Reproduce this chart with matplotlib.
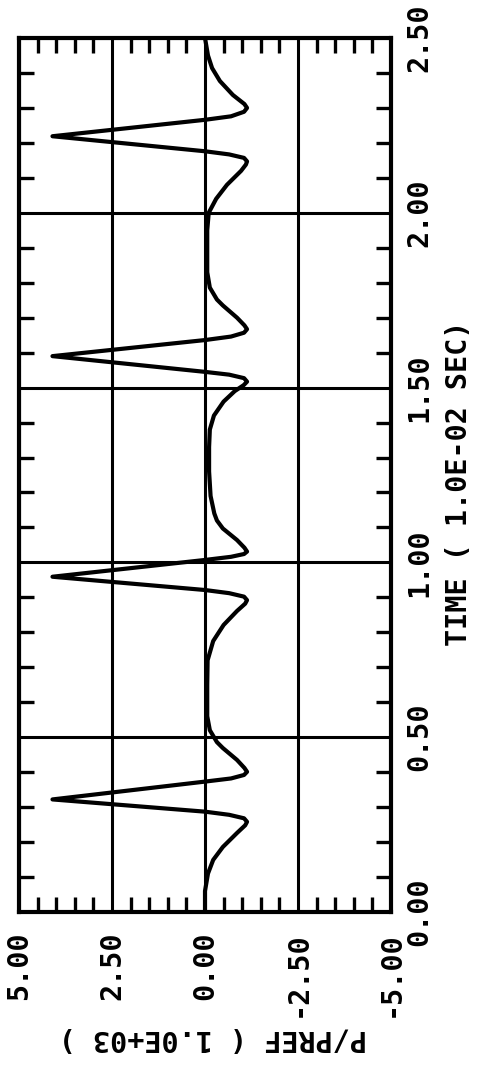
import matplotlib
matplotlib.use("Agg")
import matplotlib.pyplot as plt
from matplotlib.ticker import MultipleLocator

# time in 1.0E-02 sec, pressure P/PREF in 1.0E+03
time = [0.000, 0.060, 0.110, 0.149, 0.186, 0.226, 0.248, 0.258, 0.268, 0.278, 0.287, 0.322, 0.373,
        0.382, 0.392, 0.401, 0.412, 0.435, 0.469, 0.486, 0.520, 0.560, 0.650, 0.720,
        0.775, 0.821, 0.861, 0.882, 0.892, 0.902, 0.912, 0.921, 0.959, 1.007,
        1.016, 1.024, 1.031, 1.042, 1.064, 1.097, 1.120, 1.140, 1.190, 1.260, 1.330, 1.380,
        1.420, 1.460, 1.490, 1.507, 1.517, 1.527, 1.537, 1.545, 1.590, 1.636,
        1.646, 1.657, 1.667, 1.678, 1.700, 1.735, 1.752, 1.786, 1.830, 1.950, 2.000,
        2.040, 2.080, 2.120, 2.138, 2.147, 2.157, 2.167, 2.176, 2.219, 2.266,
        2.276, 2.289, 2.300, 2.311, 2.337, 2.377, 2.414, 2.450, 2.500]
pres = [0.00, 0.00, -0.08, -0.22, -0.48, -0.86, -1.08, -1.13, -1.05, -0.65, 0.00, 4.10, 0.00,
        -0.70, -1.05, -1.13, -1.06, -0.86, -0.48, -0.32, -0.13, -0.06, -0.06, -0.07,
        -0.22, -0.50, -0.86, -1.08, -1.13, -1.05, -0.65, 0.00, 4.10, 0.00,
        -0.70, -1.05, -1.13, -1.06, -0.86, -0.48, -0.32, -0.25, -0.15, -0.11, -0.11, -0.13,
        -0.24, -0.50, -0.80, -1.04, -1.13, -1.05, -0.65, 0.00, 4.10, 0.00,
        -0.70, -1.05, -1.13, -1.06, -0.86, -0.48, -0.32, -0.13, -0.06, -0.06, -0.10,
        -0.30, -0.59, -0.97, -1.10, -1.13, -1.05, -0.65, 0.00, 4.10, 0.00,
        -0.70, -1.05, -1.13, -1.06, -0.75, -0.40, -0.19, -0.08, 0.00]

p_ticks = [5.0, 2.5, 0.0, -2.5, -5.0]
p_labels = ["5.00", "2.50", "0.00", "-2.50", "-5.00"]
t_ticks = [0.0, 0.5, 1.0, 1.5, 2.0, 2.5]
t_labels = ["0.00", "0.50", "1.00", "1.50", "2.00", "2.50"]

W, H = 478, 1065
fig = plt.figure(figsize=(W / 100, H / 100), dpi=100)
ax = fig.add_axes([19 / W, 1 - 912 / H, 372 / W, 874 / H])

font = dict(family="DejaVu Sans Mono", weight="bold", size=20.5)

# plot is drawn turned on its side: pressure across, time upward
ax.plot(pres, time, color="black", lw=3.0, solid_joinstyle="round", solid_capstyle="round", zorder=3)

ax.set_xlim(5, -5)
ax.set_ylim(0, 2.5)

ax.set_xticks(p_ticks)
ax.set_xticklabels(p_labels, rotation=90, **font)
ax.set_yticks(t_ticks)
ax.set_yticklabels(t_labels, rotation=90, va="center", **font)
ax.xaxis.set_minor_locator(MultipleLocator(0.5))
ax.yaxis.set_minor_locator(MultipleLocator(0.1))

ax.grid(True, which="major", color="black", lw=2.2)
ax.tick_params(which="both", direction="in", top=True, bottom=True, left=True, right=True,
               width=2.4, color="black")
ax.tick_params(which="major", length=0)
ax.tick_params(which="minor", length=10.5)
ax.tick_params(axis="x", which="major", pad=14)
ax.tick_params(axis="y", which="major", labelleft=False, labelright=True, pad=10)

for s in ax.spines.values():
    s.set_linewidth(3.0)

fig.text(459 / W, 1 - 483 / H, "TIME ( 1.0E-02 SEC)", rotation=90, ha="center", va="center", **font)
fig.text(213 / W, 1 - 1038 / H, "P/PREF ( 1.0E+03 )", rotation=180, ha="center", va="center", **font)

fig.savefig("out.png", dpi=100)
